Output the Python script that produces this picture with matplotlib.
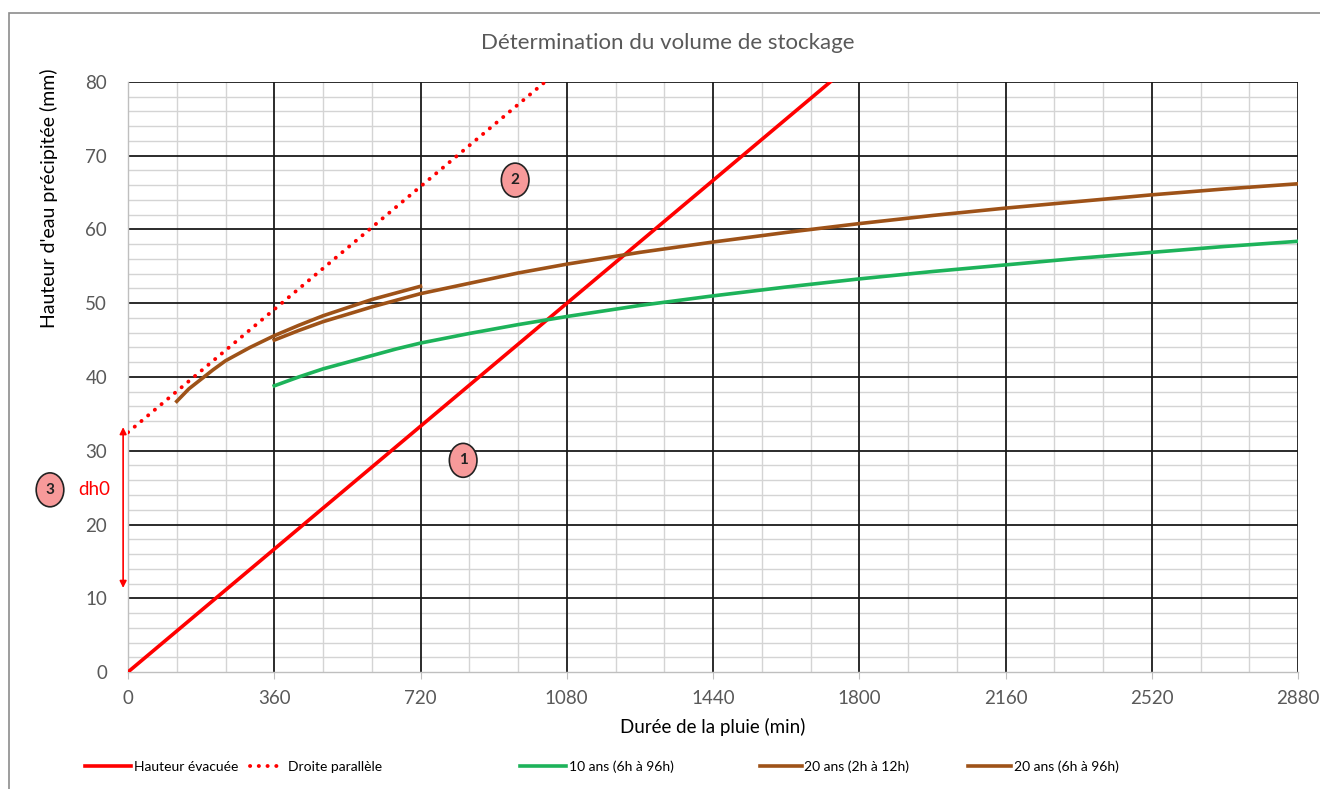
import matplotlib
matplotlib.use("Agg")
import matplotlib.pyplot as plt
from matplotlib.patches import Ellipse, Rectangle

plt.rcParams['font.family'] = ['Lato', 'DejaVu Sans']

# durées (min) et hauteurs (mm)
t_evac = [0, 2880]
h_evac = [0, 133.3]

t_para = [0, 2880]
h_para = [32.5, 165.8]

t_10ans = [360, 420, 480, 540, 600, 660, 720, 840, 960, 1080, 1260, 1440,
           1620, 1800, 1980, 2160, 2340, 2520, 2700, 2880]
h_10ans = [38.8, 40.0, 41.1, 42.0, 42.9, 43.8, 44.6, 45.9, 47.1, 48.2, 49.7,
           51.0, 52.2, 53.3, 54.3, 55.2, 56.1, 56.9, 57.7, 58.4]

t_20ans_court = [120, 150, 180, 210, 240, 300, 360, 420, 480, 540, 600, 660, 720]
h_20ans_court = [36.7, 38.4, 39.7, 41.0, 42.2, 44.0, 45.6, 47.0, 48.3, 49.4,
                 50.5, 51.4, 52.3]

t_20ans_long = [360, 420, 480, 540, 600, 660, 720, 840, 960, 1080, 1260, 1440,
                1620, 1800, 1980, 2160, 2340, 2520, 2700, 2880]
h_20ans_long = [45.0, 46.3, 47.5, 48.5, 49.5, 50.4, 51.3, 52.7, 54.1, 55.3,
                56.9, 58.3, 59.6, 60.8, 61.9, 62.9, 63.8, 64.7, 65.5, 66.2]

x_ticks = [0, 360, 720, 1080, 1440, 1800, 2160, 2520, 2880]
y_ticks = [0, 10, 20, 30, 40, 50, 60, 70, 80]

RED = '#FF0000'
GREEN = '#1DB35A'
BROWN = '#9E5218'
GREY_TXT = '#595959'

fig = plt.figure(figsize=(13.2, 7.89), dpi=100)
ax = fig.add_axes([128 / 1320, 1 - 672 / 789, 1170 / 1320, 590 / 789])

# cadre du graphique
fig.patches.append(Rectangle((9 / 1320, -0.1), 1.2, 1 - 13 / 789 + 0.1,
                             transform=fig.transFigure, fill=False,
                             edgecolor='#8C8C8C', linewidth=1.2))

ax.set_xlim(0, 2880)
ax.set_ylim(0, 80)
ax.set_xticks(x_ticks)
ax.set_yticks(y_ticks)
ax.set_xticks([t for t in range(0, 2881, 120) if t % 360], minor=True)
ax.set_yticks([v for v in range(0, 81, 2) if v % 10], minor=True)

# quadrillage secondaire gris, quadrillage principal noir par-dessus
ax.grid(which='minor', color='#D4D4D4', linewidth=1.0)
ax.set_axisbelow(True)
for xv in x_ticks[1:]:
    ax.axvline(xv, color='#1A1A1A', lw=1.3, zorder=1)
for yv in y_ticks[1:]:
    ax.axhline(yv, color='#1A1A1A', lw=1.3, zorder=1)

for s in ['top', 'right']:
    ax.spines[s].set_visible(False)
for s in ['left', 'bottom']:
    ax.spines[s].set_color('#BFBFBF')
    ax.spines[s].set_linewidth(1.0)

ax.tick_params(axis='x', which='major', length=5, color='#BFBFBF',
               labelsize=13.5, labelcolor=GREY_TXT, pad=8)
ax.tick_params(axis='x', which='minor', length=0)
ax.tick_params(axis='y', which='both', length=0, labelsize=13.5,
               labelcolor=GREY_TXT, pad=15)

ax.plot(t_evac, h_evac, color=RED, lw=2.6, label='Hauteur évacuée', zorder=3)
ax.plot(t_para, h_para, color=RED, lw=2.8, linestyle=(0, (0.05, 2.2)),
        dash_capstyle='round', label='Droite parallèle', zorder=3)
ax.plot(t_10ans, h_10ans, color=GREEN, lw=2.6, label='10 ans (6h à 96h)',
        zorder=3)
ax.plot(t_20ans_court, h_20ans_court, color=BROWN, lw=2.6,
        label='20 ans (2h à 12h)', zorder=3)
ax.plot(t_20ans_long, h_20ans_long, color=BROWN, lw=2.6,
        label='20 ans (6h à 96h)', zorder=3)

fig.text(713 / 1320, 1 - 727 / 789, 'Durée de la pluie (min)',
         ha='center', va='center', fontsize=13.5)
fig.text(49 / 1320, 1 - 198 / 789, "Hauteur d'eau précipitée (mm)",
         rotation=90, ha='center', va='center', fontsize=14)
fig.text(668 / 1320, 1 - 43 / 789, 'Détermination du volume de stockage',
         ha='center', va='center', fontsize=16, color=GREY_TXT)

# repères numérotés
for num, xe, ye in [('1', 825, 28.7), ('2', 953, 66.7), ('3', -192, 24.7)]:
    ax.add_patch(Ellipse((xe, ye), 68, 4.6, facecolor='#F79A9A',
                         edgecolor='#222222', lw=1.2, clip_on=False, zorder=5))
    ax.text(xe, ye, num, ha='center', va='center', fontsize=11,
            fontweight='bold', color='#222222', zorder=6, clip_on=False)

ax.text(-82, 24.7, 'dh0', color=RED, ha='center', va='center',
        fontsize=13.5, clip_on=False)
ax.annotate('', xy=(-12, 33.2), xytext=(-12, 11.4),
            arrowprops=dict(arrowstyle='<|-|>', color=RED, lw=1.2,
                            mutation_scale=10, shrinkA=0, shrinkB=0),
            annotation_clip=False)

# légende : une entrée par position, comme dans Excel
handles, labels = ax.get_legend_handles_labels()
leg_x = [85, 250, 520, 760, 968]
leg_len = [3.3, 2.5, 3.3, 3.0, 3.1]
for h, lab, lx, ll in zip(handles, labels, leg_x, leg_len):
    fig.legend([h], [lab], loc='center left',
               bbox_to_anchor=(lx / 1320, 1 - 767 / 789), frameon=False,
               fontsize=10, handlelength=ll, handletextpad=0.2,
               borderpad=0, borderaxespad=0)

fig.savefig('out.png', dpi=100)
